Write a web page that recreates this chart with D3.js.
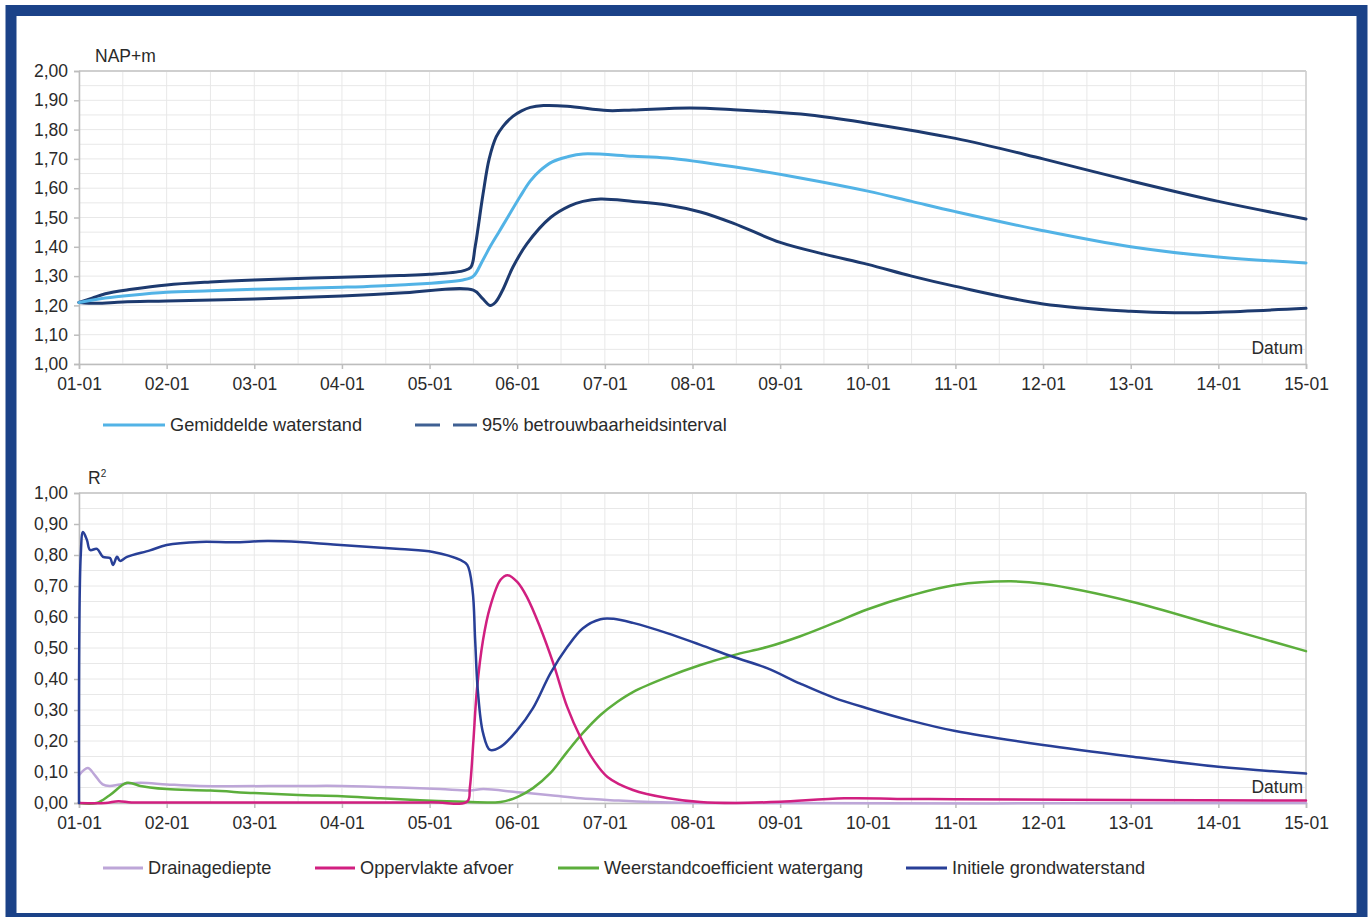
<!DOCTYPE html>
<html><head><meta charset="utf-8">
<script src="https://cdn.jsdelivr.net/npm/d3@7"></script>
<style>
html,body{margin:0;padding:0;background:#fff;}
svg text{font-family:"Liberation Sans",Arial,sans-serif;fill:#2a2a2a;}
</style></head>
<body>
<svg id="c" width="1369" height="917"></svg>
<script>
// ---------- data (x = days since start) ----------
const tickLabels = ["01-01","02-01","03-01","04-01","05-01","06-01","07-01","08-01","09-01","10-01","11-01","12-01","13-01","14-01","15-01"];
const topYTicks = [1.0,1.1,1.2,1.3,1.4,1.5,1.6,1.7,1.8,1.9,2.0];
const botYTicks = [0,0.1,0.2,0.3,0.4,0.5,0.6,0.7,0.8,0.9,1.0];

const upperDays = [0,0.15,0.3,0.6,1.0,1.5,2.0,2.5,3.0,3.66,4.0,4.38,4.47,4.52,4.61,4.68,4.76,4.84,4.95,5.05,5.15,5.30,5.57,6.03,6.32,6.97,7.47,8.34,9.0,10.0,11.0,12.0,13.0,14.0];
const upperVals = [1.21,1.225,1.24,1.255,1.27,1.28,1.287,1.292,1.296,1.302,1.306,1.318,1.33,1.40,1.58,1.70,1.775,1.812,1.845,1.864,1.876,1.882,1.88,1.865,1.867,1.874,1.868,1.85,1.822,1.77,1.70,1.625,1.555,1.495];

const meanDays = [0,0.3,0.6,1.0,1.5,2.0,3.0,3.66,4.38,4.5,4.6,4.69,4.79,4.89,5.03,5.15,5.26,5.4,5.57,5.75,6.32,6.71,7.47,8.23,9.0,9.5,10.0,11.0,12.0,13.0,14.0];
const meanVals = [1.21,1.225,1.235,1.245,1.25,1.255,1.262,1.27,1.287,1.30,1.35,1.40,1.45,1.50,1.57,1.625,1.66,1.69,1.707,1.717,1.709,1.703,1.673,1.635,1.59,1.555,1.52,1.455,1.40,1.365,1.345];

const lowerDays = [0,0.2,0.5,1.0,2.0,3.0,3.66,4.5,4.6,4.69,4.75,4.83,4.95,5.11,5.38,5.6,5.75,5.95,6.32,6.71,7.09,7.47,8.0,8.5,9.0,9.5,10.0,11.0,12.0,12.5,13.0,14.0];
const lowerVals = [1.21,1.207,1.212,1.215,1.222,1.232,1.242,1.252,1.225,1.20,1.21,1.25,1.33,1.41,1.50,1.54,1.555,1.563,1.555,1.543,1.519,1.48,1.415,1.375,1.34,1.30,1.265,1.205,1.18,1.175,1.177,1.19];

const initDays = [0,0.02,0.046,0.091,0.126,0.205,0.274,0.354,0.388,0.434,0.468,0.548,0.81,1.0,1.38,1.76,2.15,2.52,2.9,3.66,4.04,4.35,4.43,4.49,4.52,4.55,4.61,4.69,4.81,5.0,5.18,5.38,5.57,5.75,5.95,6.10,6.32,6.71,7.09,7.47,7.85,8.23,8.61,9.0,9.5,10.0,11.0,12.0,13.0,14.0];
const initVals = [0.0,0.80,0.874,0.848,0.816,0.82,0.794,0.79,0.768,0.794,0.781,0.794,0.815,0.832,0.842,0.841,0.845,0.842,0.834,0.819,0.81,0.784,0.768,0.687,0.526,0.365,0.226,0.171,0.181,0.235,0.306,0.419,0.503,0.564,0.593,0.594,0.581,0.548,0.51,0.471,0.435,0.385,0.34,0.305,0.265,0.232,0.187,0.15,0.117,0.095];

const opperDays = [0,0.3,0.45,0.6,1.0,4.0,4.43,4.46,4.5,4.54,4.61,4.69,4.81,4.89,5.0,5.11,5.26,5.41,5.57,5.72,5.87,6.03,6.32,6.71,7.09,7.5,8.0,8.73,9.5,10.0,12.0,14.0];
const opperVals = [0.0,0.0,0.006,0.002,0.002,0.002,0.005,0.05,0.2,0.365,0.526,0.632,0.72,0.735,0.713,0.665,0.568,0.452,0.31,0.213,0.139,0.084,0.042,0.016,0.003,0.0,0.004,0.015,0.013,0.012,0.01,0.008];

const weerDays = [0,0.2,0.35,0.548,0.7,0.81,1.0,1.5,2.0,2.5,3.0,3.44,3.89,4.4,4.7,4.81,5.0,5.18,5.38,5.57,5.75,5.95,6.14,6.32,6.71,7.09,7.47,7.85,8.23,8.61,9.0,9.5,10.0,10.63,11.0,12.0,13.0,14.0];
const weerVals = [0,0,0.025,0.065,0.055,0.05,0.045,0.04,0.032,0.026,0.022,0.015,0.009,0.004,0.002,0.003,0.019,0.048,0.097,0.165,0.226,0.284,0.326,0.358,0.406,0.445,0.477,0.503,0.538,0.58,0.625,0.67,0.703,0.715,0.707,0.65,0.57,0.49];

const drainDays = [0,0.1,0.18,0.27,0.35,0.47,0.7,1.0,1.38,2.5,3.0,3.66,4.12,4.46,4.61,5.0,5.38,5.72,6.14,6.52,7.0,14.0];
const drainVals = [0.09,0.113,0.09,0.06,0.055,0.06,0.065,0.06,0.055,0.055,0.055,0.05,0.045,0.04,0.045,0.035,0.025,0.015,0.008,0.003,0.0,0.0];

const topSeries = [
  {name:"lower", days:lowerDays, vals:lowerVals, color:"#1d3a6f", w:3},
  {name:"upper", days:upperDays, vals:upperVals, color:"#1d3a6f", w:3},
  {name:"mean", days:meanDays, vals:meanVals, color:"#52b3e6", w:3}
];
const botSeries = [
  {name:"Drainagediepte", days:drainDays, vals:drainVals, color:"#bda6d8", w:2.5},
  {name:"Weerstandcoefficient watergang", days:weerDays, vals:weerVals, color:"#5cae3c", w:2.5},
  {name:"Oppervlakte afvoer", days:opperDays, vals:opperVals, color:"#d11f80", w:2.5},
  {name:"Initiele grondwaterstand", days:initDays, vals:initVals, color:"#283f97", w:2.5}
];

// ---------- drawing ----------
const svg = d3.select("#c");
svg.append("rect").attr("x",11).attr("y",10.5).attr("width",1351).attr("height",908)
  .attr("fill","none").attr("stroke","#1b4288").attr("stroke-width",11);

const left = 79, right = 1306;
const x = d3.scaleLinear().domain([0,14]).range([left,right]);
const fmtComma = v => d3.format(".2f")(v).replace(".",",");

function panel(yTop, yBot, domain, yTicks, series, yLabel, sup) {
  const y = d3.scaleLinear().domain(domain).range([yBot,yTop]);
  const g = svg.append("g");
  const minorX = d3.range(0,14.01,0.5);
  g.selectAll(".gx").data(minorX).enter().append("line")
    .attr("x1",d=>x(d)).attr("x2",d=>x(d)).attr("y1",yTop).attr("y2",yBot)
    .attr("stroke","#e8e8e8").attr("stroke-width",1);
  const step = (domain[1]-domain[0])/20;
  const minorY = d3.range(0,21).map(i=>domain[0]+i*step);
  g.selectAll(".gy").data(minorY).enter().append("line")
    .attr("x1",left).attr("x2",right).attr("y1",d=>y(d)).attr("y2",d=>y(d))
    .attr("stroke","#e8e8e8").attr("stroke-width",1);
  g.append("line").attr("x1",left).attr("x2",right).attr("y1",yTop).attr("y2",yTop).attr("stroke","#cfcfcf").attr("stroke-width",2);
  g.append("line").attr("x1",right).attr("x2",right).attr("y1",yTop).attr("y2",yBot).attr("stroke","#cfcfcf").attr("stroke-width",1.5);
  const ya = d3.axisLeft(y).tickValues(yTicks).tickFormat(fmtComma).tickSize(5).tickPadding(6);
  const yg = g.append("g").attr("transform",`translate(${left},0)`).call(ya);
  const xa = d3.axisBottom(x).tickValues(d3.range(0,15)).tickFormat((d,i)=>tickLabels[i]).tickSize(5).tickPadding(9);
  const xg = g.append("g").attr("transform",`translate(0,${yBot})`).call(xa);
  [yg,xg].forEach(a=>{
    a.select(".domain").attr("stroke","#bdbdbd").attr("stroke-width",1.5);
    a.selectAll(".tick line").attr("stroke","#bdbdbd").attr("stroke-width",1.5);
    a.selectAll("text").style("font-size","17.5px").attr("fill","#2a2a2a").style("font-family","Liberation Sans, Arial, sans-serif");
  });
  const line = d3.line().x(d=>x(d[0])).y(d=>y(d[1])).curve(d3.curveCatmullRom.alpha(0.5));
  series.forEach(s=>{
    const pts = s.days.map((d,i)=>[d,s.vals[i]]);
    g.append("path").datum(pts).attr("d",line).attr("fill","none")
      .attr("stroke",s.color).attr("stroke-width",s.w).attr("stroke-linejoin","round").attr("stroke-linecap","round");
  });
  const t = g.append("text").attr("x", sup ? 88 : 95).attr("y", yTop-9).style("font-size","17.5px").text(yLabel);
  if (sup) t.append("tspan").attr("dy",-7).style("font-size","10px").text(sup);
  g.append("text").attr("x",right-3).attr("y",yBot-10).attr("text-anchor","end").style("font-size","17.5px").text("Datum");
  return y;
}

panel(71, 364, [1,2], topYTicks, topSeries, "NAP+m", null);
panel(493, 803, [0,1], botYTicks, botSeries, "R", "2");

function legendItem(x0, x1, yv, color, label, dashed, w) {
  if (dashed) {
    svg.append("line").attr("x1",x0).attr("x2",x0+25).attr("y1",yv).attr("y2",yv).attr("stroke",color).attr("stroke-width",w);
    svg.append("line").attr("x1",x0+38).attr("x2",x1).attr("y1",yv).attr("y2",yv).attr("stroke",color).attr("stroke-width",w);
  } else {
    svg.append("line").attr("x1",x0).attr("x2",x1).attr("y1",yv).attr("y2",yv).attr("stroke",color).attr("stroke-width",w);
  }
  svg.append("text").attr("x",x1+5).attr("y",yv+6).style("font-size","18.2px").text(label);
}
legendItem(103,165,425,"#52b3e6","Gemiddelde waterstand",false,3);
legendItem(415,477,425,"#3f6093","95% betrouwbaarheidsinterval",true,3);

const botLegendX = [[103,143],[315,355],[558,599],[906,947]];
const botLegendOrder = [0,2,1,3];
botLegendOrder.forEach((si,i)=>{
  const s = botSeries[si];
  legendItem(botLegendX[i][0],botLegendX[i][1],868,s.color,s.name,false,3);
});
</script>
</body></html>
